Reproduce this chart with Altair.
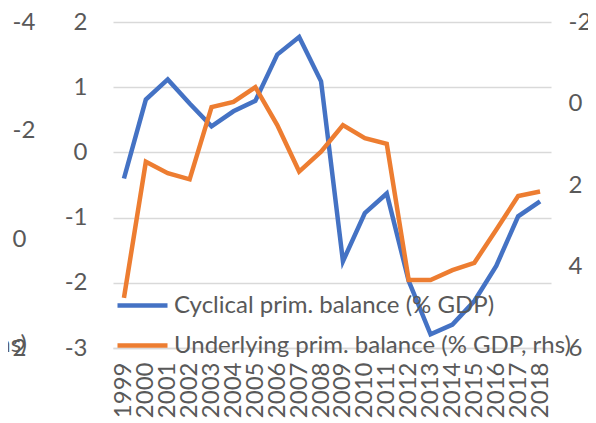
import altair as alt
import pandas as pd

years = [str(y) for y in range(1999, 2019)]
cyclical = [-0.40, 0.81, 1.12, 0.75, 0.40, 0.63, 0.79, 1.50, 1.77, 1.09,
            -1.67, -0.93, -0.63, -1.97, -2.79, -2.64, -2.28, -1.74, -0.98, -0.75]
underlying = [4.77, 1.43, 1.71, 1.86, 0.09, -0.04, -0.40, 0.53, 1.67, 1.18,
              0.53, 0.85, 0.99, 4.33, 4.33, 4.09, 3.91, 3.10, 2.27, 2.16]
left_ticks = [-3, -2, -1, 0, 1, 2]
right_ticks = [-2, 0, 2, 4, 6]
outer_ticks = [-4, -2, 0, 2]
series_names = ["Cyclical prim. balance (% GDP)", "Underlying prim. balance (% GDP, rhs)"]
colors = ["#4472C4", "#ED7D31"]
stray_text = ["rhs)"]

FONT = "Lato"
GREY = "#595959"
GRID = "#D9D9D9"
LBL = "'' + datum.value"

df = pd.DataFrame({"year": years, "cyclical": cyclical, "underlying": underlying})

xenc = alt.X("year:O", title=None,
             axis=alt.Axis(labelAngle=270, labelFontSize=24, labelPadding=14,
                           labelColor=GREY, labelFont=FONT, ticks=False,
                           domain=True, domainColor=GRID, domainWidth=1.5,
                           labelOverlap=False, grid=False))

color_scale = alt.Scale(domain=series_names, range=colors)
legend = alt.Legend(title=None, orient="none", legendX=2, legendY=256,
                    symbolType="stroke", symbolSize=2500, symbolStrokeWidth=4.5,
                    labelFontSize=24, labelFont=FONT, labelColor=GREY,
                    labelLimit=700, rowPadding=-12, labelOffset=4, padding=0)
cenc = alt.Color("series:N", scale=color_scale, legend=legend)

base = alt.Chart(df)

blue = base.transform_calculate(series=f"'{series_names[0]}'").mark_line(strokeWidth=4.5).encode(
    x=xenc,
    y=alt.Y("cyclical:Q", title=None,
            scale=alt.Scale(domain=[-3, 2], nice=False, zero=False),
            axis=alt.Axis(orient="left", values=left_ticks, grid=True,
                          gridColor=GRID, gridWidth=1.5, domain=False, ticks=False,
                          labelFontSize=24, labelFont=FONT, labelColor=GREY,
                          labelPadding=26, labelExpr=LBL)),
    color=cenc,
)

orange = base.transform_calculate(series=f"'{series_names[1]}'").mark_line(strokeWidth=4.5).encode(
    x=xenc,
    y=alt.Y("underlying:Q", title=None,
            scale=alt.Scale(domain=[-2, 6], nice=False, zero=False, reverse=True),
            axis=alt.Axis(orient="right", values=right_ticks, grid=False,
                          domain=False, ticks=False,
                          labelFontSize=24, labelFont=FONT, labelColor=GREY,
                          labelPadding=17, labelExpr=LBL)),
    color=cenc,
)

outer = base.mark_point(opacity=0).encode(
    x=xenc,
    y=alt.Y("cyclical:Q", title=None,
            scale=alt.Scale(domain=[-4, 2], nice=False, zero=False, reverse=True),
            axis=alt.Axis(orient="left", values=outer_ticks, grid=False,
                          domain=False, ticks=False, labelAlign="left",
                          labelFontSize=24, labelFont=FONT, labelColor=GREY,
                          labelPadding=101, labelExpr=LBL)),
)

stray = alt.Chart(pd.DataFrame({"t": stray_text})).mark_text(
    align="right", baseline="middle", fontSize=24, font=FONT, color=GREY
).encode(x=alt.value(-86), y=alt.value(323), text="t:N")

chart = alt.layer(blue, orange, outer, stray).resolve_scale(
    y="independent"
).properties(
    width=438, height=326,
    autosize=alt.AutoSizeParams(type="none"),
    padding={"left": 105, "top": 14, "right": 37, "bottom": 70},
).configure_view(stroke=None)

chart.save("out.html", embed_options={"renderer": "svg", "actions": False})
